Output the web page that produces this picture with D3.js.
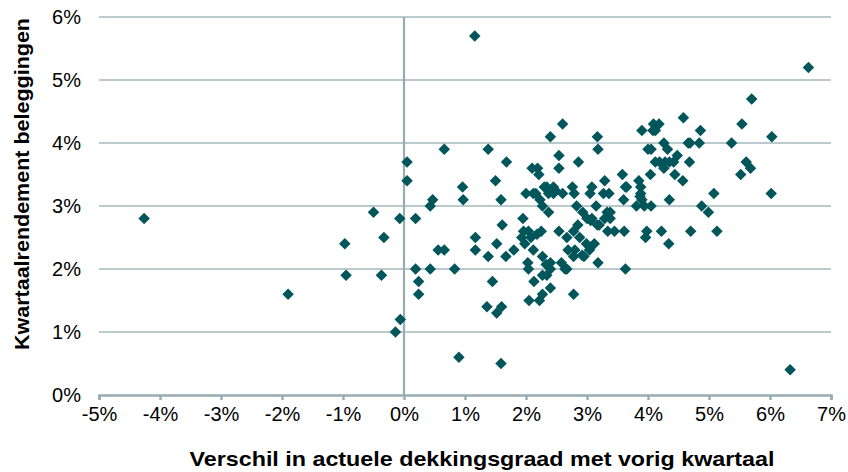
<!DOCTYPE html>
<html>
<head>
<meta charset="utf-8">
<script src="https://cdn.jsdelivr.net/npm/d3@7"></script>
<style>
  html, body { margin: 0; padding: 0; background: #ffffff; }
  svg { display: block; font-family: "Liberation Sans", Arial, sans-serif; }
</style>
</head>
<body>
<svg id="chart" width="848" height="472"></svg>
<script>
// x: Verschil in actuele dekkingsgraad met vorig kwartaal (%)
const xValues = [
  -4.26, -1.9, -0.97, -0.95, -0.5, -0.33, -0.37, -0.07, -0.14, -0.06,
  0.05, 0.05, 0.19, 0.19, 0.24, 0.24, 0.43, 0.43, 0.47, 0.56,
  0.66, 0.66, 0.83, 0.9, 0.96, 0.97, 1.16, 1.17, 1.17, 1.38,
  1.38, 1.36, 1.45, 1.5, 1.52, 1.52, 1.6, 1.59, 1.59, 1.61,
  1.67, 1.68, 1.8, 1.93, 1.95, 1.96, 1.98, 2.0, 2.03, 2.04,
  2.04, 2.05, 2.12, 2.13, 2.1, 2.16, 2.19, 2.21, 2.23, 2.22,
  2.25, 2.27, 2.27, 2.27, 2.3, 2.27, 2.37, 2.37, 2.34, 2.4,
  2.4, 2.4, 2.4, 2.45, 2.45, 2.54, 2.54, 2.54, 2.58, 2.6,
  2.6, 2.64, 2.67, 2.67, 2.69, 2.76, 2.78, 2.78, 2.78, 2.8,
  2.83, 2.85, 2.86, 2.88, 2.93, 2.95, 2.99, 3.0, 3.04, 3.05,
  3.08, 3.08, 3.12, 3.15, 3.17, 3.18, 3.17, 3.18, 3.27, 3.29,
  3.29, 3.33, 3.34, 3.36, 3.38, 3.38, 3.45, 3.58, 3.6, 3.61,
  3.63, 3.63, 3.81, 3.85, 3.88, 3.88, 3.9, 3.9, 3.94, 3.96,
  3.98, 4.0, 4.04, 4.05, 4.05, 4.08, 4.09, 4.12, 4.18, 4.19,
  4.22, 4.26, 4.26, 4.28, 4.32, 4.34, 4.35, 4.35, 4.42, 4.44,
  4.48, 4.57, 4.58, 4.66, 4.68, 4.7, 4.86, 4.84, 4.88, 4.99,
  5.08, 5.13, 5.37, 5.52, 5.54, 5.61, 5.68, 5.7, 6.02, 6.03,
  6.33, 6.63, 2.12, 2.34, 2.48, 2.79, 3.65, 4.69, 3.06, 3.2,
  3.05, 2.92, 4.12, 3.87, 2.08, 2.18, 2.33
];
// y: Kwartaalrendement beleggingen (%)
const yValues = [
  2.8, 1.6, 2.4, 1.9, 2.9, 2.5, 1.9, 2.8, 1.0, 1.2,
  3.7, 3.4, 2.8, 2.0, 1.8, 1.6, 2.0, 3.0, 3.1, 2.3,
  2.3, 3.9, 2.0, 0.6, 3.3, 3.1, 5.7, 2.5, 2.3, 3.9,
  2.2, 1.4, 1.8, 3.4, 2.4, 1.3, 1.4, 0.5, 3.1, 2.7,
  2.2, 3.7, 2.3, 2.5, 2.8, 2.6, 2.4, 3.2, 2.1, 2.6,
  2.0, 1.5, 2.3, 1.8, 3.6, 3.2, 3.6, 3.5, 3.1, 1.5,
  2.6, 2.2, 1.9, 1.6, 3.3, 3.0, 2.9, 3.2, 1.9, 4.1,
  2.1, 2.0, 1.7, 3.3, 3.2, 3.8, 3.6, 2.6, 2.1, 4.3,
  3.2, 2.0, 2.0, 2.5, 2.3, 3.3, 2.6, 2.2, 1.6, 2.3,
  3.0, 2.7, 3.7, 2.5, 2.9, 2.2, 2.4, 2.8, 2.3, 3.2,
  3.3, 2.8, 2.4, 3.0, 4.1, 3.9, 2.7, 2.1, 3.2, 3.4,
  2.8, 2.9, 2.6, 3.2, 2.9, 2.8, 2.6, 3.5, 3.1, 2.6,
  3.3, 2.0, 3.0, 3.4, 3.3, 3.2, 3.1, 4.2, 3.0, 2.5,
  2.6, 3.9, 3.5, 3.9, 3.0, 4.2, 4.3, 4.2, 4.3, 3.7,
  2.6, 4.0, 3.6, 3.7, 3.9, 2.4, 3.7, 3.1, 3.7, 3.5,
  3.8, 3.4, 4.4, 4.0, 3.7, 2.6, 4.2, 4.0, 3.0, 2.9,
  3.2, 2.6, 4.0, 3.5, 4.3, 3.7, 3.6, 4.7, 3.2, 4.1,
  0.4, 5.2, 3.2, 3.3, 3.25, 3.2, 3.3, 4.0, 2.77, 2.7,
  2.35, 2.22, 3.7, 3.15, 2.5, 2.55, 2.07
];
const xTicks = [-5, -4, -3, -2, -1, 0, 1, 2, 3, 4, 5, 6, 7];
const yTicks = [0, 1, 2, 3, 4, 5, 6];
const xTitle = "Verschil in actuele dekkingsgraad met vorig kwartaal";
const yTitle = "Kwartaalrendement beleggingen";

const points = xValues.map((x, i) => ({ x: x, y: yValues[i] }));

const svg = d3.select("#chart");
const x = d3.scaleLinear().domain([-5, 7]).range([99, 831]);
const y = d3.scaleLinear().domain([0, 6]).range([395, 17]);
const gridColor = "#a5b8bc";
const axisColor = "#97adb2";
const fmt = d => d + "%";

// horizontal gridlines
svg.append("g").selectAll("line").data(yTicks.filter(d => d > 0)).join("line")
  .attr("x1", x(-5)).attr("x2", x(7))
  .attr("y1", d => y(d)).attr("y2", d => y(d))
  .attr("stroke", gridColor).attr("stroke-width", 1.6);

// x axis (bottom)
const xAxis = d3.axisBottom(x).tickValues(xTicks).tickFormat(fmt).tickSize(5).tickPadding(7);
const gx = svg.append("g").attr("transform", `translate(0,${y(0)})`).call(xAxis);
gx.select(".domain").attr("stroke", axisColor).attr("stroke-width", 2.6);
gx.selectAll(".tick line").attr("stroke", axisColor).attr("stroke-width", 2.4);
gx.selectAll(".tick text").attr("fill", "#000").attr("font-size", 20)
  .attr("font-family", "'Liberation Sans', Arial, sans-serif");

// y axis labels (left)
const yAxis = d3.axisLeft(y).tickValues(yTicks).tickFormat(fmt).tickSize(0).tickPadding(0);
const gy = svg.append("g").attr("transform", `translate(81,0)`).call(yAxis);
gy.select(".domain").remove();
gy.selectAll(".tick text").attr("fill", "#000").attr("font-size", 20)
  .attr("font-family", "'Liberation Sans', Arial, sans-serif");

// vertical axis line at x = 0
svg.append("line")
  .attr("x1", x(0)).attr("x2", x(0)).attr("y1", y(6)).attr("y2", y(0))
  .attr("stroke", axisColor).attr("stroke-width", 2.2);

// markers
const diamondType = d3.symbolDiamond2 || {
  draw(ctx, size) { const r = Math.sqrt(size) * 0.62625; ctx.moveTo(0, -r); ctx.lineTo(r, 0); ctx.lineTo(0, r); ctx.lineTo(-r, 0); ctx.closePath(); }
};
const sym = d3.symbol().type(diamondType).size(84);
svg.append("g").selectAll("path").data(points).join("path")
  .attr("transform", d => `translate(${x(d.x)},${y(d.y)})`)
  .attr("d", sym)
  .attr("fill", "#00565a");

// axis titles
svg.append("text")
  .attr("x", 482).attr("y", 466)
  .attr("text-anchor", "middle")
  .attr("font-size", 21).attr("font-weight", "bold")
  .attr("textLength", 585).attr("lengthAdjust", "spacingAndGlyphs")
  .text(xTitle);

svg.append("text")
  .attr("transform", "translate(29,184) rotate(-90)")
  .attr("text-anchor", "middle")
  .attr("font-size", 20).attr("font-weight", "bold")
  .attr("textLength", 332).attr("lengthAdjust", "spacingAndGlyphs")
  .text(yTitle);
</script>
</body>
</html>
